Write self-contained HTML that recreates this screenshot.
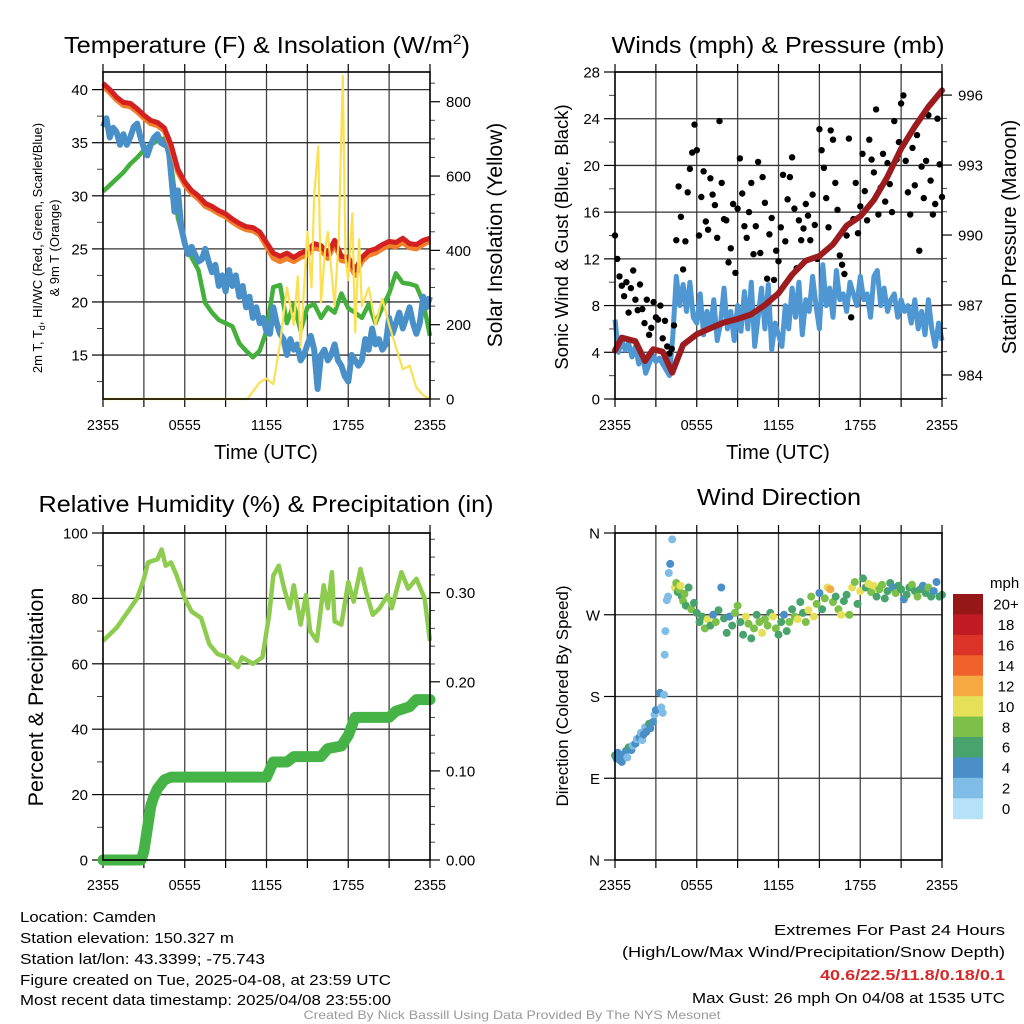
<!DOCTYPE html>
<html><head><meta charset="utf-8"><title>Camden Mesonet Meteogram</title>
<style>
html,body{margin:0;padding:0;background:#fff;}
svg{display:block;font-family:"Liberation Sans",Arial,sans-serif;}
</style></head>
<body>
<svg id="fig" xmlns="http://www.w3.org/2000/svg" width="1024" height="1024" viewBox="0 0 1024 1024">
<rect x="0" y="0" width="1024" height="1024" fill="#fff"/>
<g id="layer"></g>
<g fill="#000">
<text x="267" y="53" font-size="23" text-anchor="middle" textLength="406" lengthAdjust="spacingAndGlyphs">Temperature (F) &amp; Insolation (W/m<tspan font-size="14" dy="-9">2</tspan><tspan dy="9">)</tspan></text>
<text x="778" y="53" font-size="23" text-anchor="middle" textLength="333" lengthAdjust="spacingAndGlyphs">Winds (mph) &amp; Pressure (mb)</text>
<text x="266" y="512" font-size="23" text-anchor="middle" textLength="455" lengthAdjust="spacingAndGlyphs">Relative Humidity (%) &amp; Precipitation (in)</text>
<text x="779" y="505" font-size="23" text-anchor="middle" textLength="164" lengthAdjust="spacingAndGlyphs">Wind Direction</text>
<text x="266" y="459" font-size="20" text-anchor="middle">Time (UTC)</text>
<text x="778" y="459" font-size="20" text-anchor="middle">Time (UTC)</text>
<text transform="translate(42,248) rotate(-90)" font-size="13" text-anchor="middle">2m T, T<tspan font-size="9" dy="3">d</tspan><tspan dy="-3">, HI/WC (Red, Green, Scarlet/Blue)</tspan></text>
<text transform="translate(59,248) rotate(-90)" font-size="13" text-anchor="middle">&amp; 9m T (Orange)</text>
<text transform="translate(502,235) rotate(-90)" font-size="21" text-anchor="middle">Solar Insolation (Yellow)</text>
<text transform="translate(568,237) rotate(-90)" font-size="18.5" text-anchor="middle">Sonic Wind &amp; Gust (Blue, Black)</text>
<text transform="translate(1016,237) rotate(-90)" font-size="20" text-anchor="middle">Station Pressure (Maroon)</text>
<text transform="translate(43,697) rotate(-90)" font-size="21.5" text-anchor="middle">Percent &amp; Precipitation</text>
<text transform="translate(568,696) rotate(-90)" font-size="17" text-anchor="middle">Direction (Colored By Speed)</text>
<text x="990" y="588" font-size="15">mph</text>
</g>
<g font-size="14.5" fill="#000">
<text x="20" y="922" textLength="136" lengthAdjust="spacingAndGlyphs">Location: Camden</text>
<text x="20" y="943" textLength="214" lengthAdjust="spacingAndGlyphs">Station elevation: 150.327 m</text>
<text x="20" y="964" textLength="245" lengthAdjust="spacingAndGlyphs">Station lat/lon: 43.3399; -75.743</text>
<text x="20" y="985" textLength="371" lengthAdjust="spacingAndGlyphs">Figure created on Tue, 2025-04-08, at 23:59 UTC</text>
<text x="20" y="1005" textLength="371" lengthAdjust="spacingAndGlyphs">Most recent data timestamp: 2025/04/08 23:55:00</text>
</g>
<g font-size="14.5" fill="#000" text-anchor="end">
<text x="1005" y="935" textLength="231" lengthAdjust="spacingAndGlyphs">Extremes For Past 24 Hours</text>
<text x="1005" y="957" textLength="383" lengthAdjust="spacingAndGlyphs">(High/Low/Max Wind/Precipitation/Snow Depth)</text>
<text x="1005" y="980" font-weight="bold" fill="#d42a2a" textLength="185" lengthAdjust="spacingAndGlyphs">40.6/22.5/11.8/0.18/0.1</text>
<text x="1005" y="1003" textLength="313" lengthAdjust="spacingAndGlyphs">Max Gust: 26 mph On 04/08 at 1535 UTC</text>
</g>
<text x="512" y="1019" font-size="12" fill="#999" text-anchor="middle" textLength="417" lengthAdjust="spacingAndGlyphs">Created By Nick Bassill Using Data Provided By The NYS Mesonet</text>
</svg>
<script>
// ---------- data ----------
const halfHours = [0,0.5,1,1.5,2,2.5,3,3.5,4,4.5,5,5.5,6,6.5,7,7.5,8,8.5,9,9.5,10,10.5,11,11.5,12,12.5,13,13.5,14,14.5,15,15.5,16,16.5,17,17.5,18,18.5,19,19.5,20,20.5,21,21.5,22,22.5,23,23.5,24];
const quarterHours = Array.from({length: 97}, (_, i) => i / 4);
const tempRed = [40.6,40.0,39.3,38.8,38.7,38.2,37.6,37.1,36.9,36.4,34.8,32.5,31.3,30.5,30.0,29.3,29.0,28.6,28.3,27.8,27.4,27.1,27.0,26.6,25.6,24.6,24.3,24.6,24.2,24.6,24.8,25.5,25.3,24.5,25.8,24.3,24.2,23.0,24.2,24.8,25.0,25.4,25.7,25.6,26.0,25.5,25.4,25.8,26.0];
const temp9mOrange = [40.3,39.7,39.0,38.5,38.4,37.9,37.3,36.8,36.6,36.1,34.5,32.2,31.0,30.2,29.7,29.0,28.7,28.3,28.0,27.5,27.1,26.8,26.7,26.3,25.2,24.1,23.8,24.1,23.8,24.2,24.4,25.1,24.9,24.1,25.4,23.9,23.8,22.5,23.8,24.4,24.6,25.0,25.3,25.2,25.6,25.1,25.0,25.4,25.7];
const dewGreen = [30.4,31.0,31.6,32.2,33.0,33.6,34.3,34.8,35.2,35.4,33.0,27.9,25.5,24.2,23.0,19.9,19.0,18.3,18.0,17.7,16.1,15.4,14.8,15.4,17.3,21.4,21.6,18.0,19.8,17.3,19.5,19.8,18.5,19.5,19.0,20.8,19.4,19.0,18.5,19.8,18.0,19.5,20.8,22.7,21.8,21.7,21.5,20.0,16.8];
const chillBlue = [36.5,37.3,35.5,36.4,36.0,34.8,35.8,34.8,35.5,36.5,36.8,35.5,34.5,33.8,34.8,35.5,35.8,35.0,34.8,35.5,32.0,
28.5,30.5,27,25.5,24.5,25.2,24.5,23.8,24.0,25.0,23.8,22.8,23.5,21.5,22.5,21.0,23.0,21.5,22.5,20.5,21.5,19.5,20.5,18.5,19.5,18.0,18.5,17.2,17.0,19.5,18.0,17.0,16.5,15.0,16.5,15.5,16.0,14.5,15.0,16.0,16.8,15.5,11.8,15.0,15.5,14.5,15.0,16.0,14.5,14.0,13.0,12.5,15.0,14.5,14.0,14.5,16.5,15.5,17.5,16.0,16.5,15.5,16.0,18.5,17.0,18.0,19.0,17.5,18.5,19.5,18.0,17.0,18.0,20.5,19.5,20.5];
const solarTimes = [0,10.6,11,11.5,12,12.5,13,13.5,14,14.3,14.5,15,15.3,15.5,15.8,16,16.3,16.5,17,17.3,17.6,17.8,18,18.3,18.5,18.8,19,19.5,20,20.5,21,21.5,22,22.5,23,23.5,24];
const solarValues = [0,0,20,45,55,40,150,300,200,330,140,450,300,550,680,260,400,450,250,430,870,380,320,500,180,430,250,300,200,270,200,140,80,90,30,10,0];
const windSpeed = [6.8,4.0,5.0,4.2,4.8,3.6,4.5,3.0,3.8,2.2,3.0,3.8,3.2,3.5,3.0,2.5,2.0,
5.5,10.5,8.0,9.8,7.5,10.0,7.0,6.5,9.0,5.5,7.5,6.0,8.5,5.0,6.5,9.5,6.0,7.5,5.0,8.0,5.8,9.2,6.0,10.0,4.5,7.0,9.5,6.0,9.8,4.2,6.5,5.5,4.5,8.0,6.0,9.5,7.0,10.0,5.5,8.5,7.5,10.5,8.0,6.0,11.5,8.0,9.5,7.0,11.0,8.5,9.0,7.5,10.0,9.0,8.0,10.5,8.5,9.0,7.0,10.5,11.0,8.0,9.5,7.5,8.5,9.0,7.0,8.5,7.5,8.0,6.5,8.5,6.0,7.5,5.5,8.5,6.0,4.5,6.5,5.0];
const pressureHours = [0,0.5,1.5,2.2,2.8,3.5,4.2,5,6,7,8,9,10,11,12,13,14,15,16,17,18,19,20,21,22,23,24];
const pressureMb = [985.05,985.6,985.45,984.6,985.1,985.0,984.1,985.3,985.75,986.0,986.25,986.4,986.6,987.0,987.5,988.3,988.9,989.1,989.6,990.4,990.8,991.5,992.5,993.7,994.65,995.5,996.2];
const gustMph = [14,12,10.5,9.7,8.8,10,7.4,9.5,11,8.5,7.6,9.8,7.7,6.5,8.5,5.5,6.1,8.3,7,6.8,8,5.2,6.7,4.5,3.9,4.3,
6.3,13.6,18.2,15.6,11.1,13.5,17.7,19.7,21.1,23.5,21.3,14,17.3,19.5,15.2,14.5,18.9,17.5,16.6,13.8,23.8,18.5,15.4,15.3,11.7,12.9,16.7,10.8,16.3,20.6,17.6,14.8,13.8,16,18.5,12.4,14.8,20.3,12.5,19,16.8,10.3,14.1,15.5,10.2,12.7,11.8,14.7,19.2,13.5,17.1,19,20.7,16.3,11.2,15.3,13.6,14.6,16.7,15.7,13.6,17.5,14.9,12,23.1,21.3,19.8,17.2,14.7,23,22.2,18.5,16.2,12.3,11.5,10.7,14,22.3,7,15.4,18.5,14.2,16.5,21,17.8,15.3,22.2,20.5,19.4,24.8,15.8,18.1,21,16.9,20.2,18.4,16,23.8,20.5,22,25.3,26,20.4,17.7,15.8,21.5,18.3,22.6,12.7,19.9,17.2,20.4,24.3,18.7,15.8,16.7,24,20.1,17.3];
const rhHours = [0,1,2,2.5,3,3.3,4,4.3,4.6,5,5.4,6,6.5,7.2,7.8,8.4,9.1,9.9,10.2,11,11.7,12.2,12.5,12.9,13.3,13.7,14,14.5,14.9,15.2,15.7,16.2,16.5,16.8,17,17.5,18,18.4,18.9,19.3,19.8,20.3,20.9,21.2,21.9,22.4,23,23.6,24];
const rhPercent = [67,71,77,80,86,91,92,95,90,91,87,80,76,74,66,63,62,59,62,60,62,75,87,90,83,77,84,72,81,70,67,84,77,88,73,72,85,79,89,82,75,77,81,77,88,83,86,80,67];
const precipHours = [0,2.8,3.0,3.3,3.5,3.7,4.0,4.5,5,12,12.5,13.5,14,16,16.5,17.5,18,18.5,21,21.5,22.5,23,24];
const precipInches = [0,0,0.01,0.04,0.06,0.07,0.08,0.09,0.093,0.093,0.11,0.11,0.116,0.116,0.125,0.128,0.14,0.16,0.16,0.167,0.172,0.18,0.18];
const dirHours = [0,0.1,0.2,0.35,0.5,0.6,0.8,0.9,1.0,1.2,1.3,1.5,1.6,1.8,1.9,2.0,2.1,2.2,2.3,2.5,2.6,2.8,2.9,3.0,3.3,3.4,3.5,3.6,3.65,3.7,3.8,3.9,3.95,4.05,4.2,
4.4,4.5,4.6,4.7,4.8,4.9,5.0,5.1,5.2,5.4,5.6,5.8,6.0,6.2,6.4,6.6,6.8,7.0,7.2,7.4,7.6,7.8,8.0,8.2,8.4,8.6,8.8,9.0,9.2,9.4,9.6,9.8,10.0,10.2,10.4,10.6,10.8,11.0,11.2,11.4,11.6,11.8,12.0,12.2,12.4,12.6,12.8,13.0,13.2,13.4,13.6,13.8,14.0,14.2,14.4,14.6,14.8,15.0,15.2,15.4,15.6,15.8,16.0,16.2,16.4,16.6,16.8,17.0,17.2,17.4,17.6,17.8,18.0,18.2,18.4,18.6,18.8,19.0,19.2,19.4,19.6,19.8,20.0,20.2,20.4,20.6,20.8,21.0,21.2,21.4,21.6,21.8,22.0,22.2,22.4,22.6,22.8,23.0,23.2,23.4,23.6,23.8,24.0];
const dirDegrees = [115,112,118,110,108,116,120,113,124,121,126,128,133,135,140,132,138,146,141,150,145,152,160,165,184,168,162,182,226,252,286,290,316,326,353,
300,305,295,298,302,290,285,293,280,300,276,283,272,262,268,255,265,258,270,262,275,300,266,250,268,258,272,280,262,248,268,260,244,255,270,262,250,265,258,272,268,255,248,262,270,252,262,276,268,265,284,272,262,275,290,268,282,294,276,288,300,298,284,290,276,270,285,292,270,300,306,282,296,310,300,304,295,302,290,298,303,288,296,305,300,294,302,298,287,292,300,303,296,290,298,302,294,300,290,296,306,290,292];
const dirSpeed = [6,4,4,4,4,4,4,3,6,4,3,4,2,4,3,2,4,2,4,6,4,4,2,4,4,2,2,2,2,2,2,2,2,4,2,
10,8,6,8,10,6,8,8,6,6,8,6,6,6,6,8,10,6,4,8,6,4,6,6,4,6,8,8,6,6,10,8,6,8,6,8,10,8,8,6,10,8,6,6,4,6,8,6,8,10,6,6,8,10,8,10,8,4,6,8,10,12,8,6,8,10,6,6,8,10,8,6,10,6,6,10,8,10,6,8,8,6,6,6,4,8,6,6,4,6,6,8,6,8,6,4,6,8,6,4,4,6,6];
const speedBinLabels = ["0","2","4","6","8","10","12","14","16","18","20+"];
const speedBinColors = ["#b5e2f8","#7fbde6","#4a8fc7","#48a46c","#7cc04a","#e6e058","#f6a843","#ef622b","#dc3328","#c01b24","#961718"];
const timeTickLabels = ["2355","0555","1155","1755","2355"];
const tempTicks = [15,20,25,30,35,40];
const solarTicks = [0,200,400,600,800];
const windTicks = [0,4,8,12,16,20,24,28];
const pressureTicks = [984,987,990,993,996];
const rhTicks = [0,20,40,60,80,100];
const precipTicks = [0,0.1,0.2,0.3];
const precipTickLabels = ["0.00","0.10","0.20","0.30"];
const dirTicks = [0,90,180,270,360];
const dirTickLabels = ["N","E","S","W","N"];

// ---------- helpers ----------
const NS = "http://www.w3.org/2000/svg";
const layer = document.getElementById("layer");
function mk(tag, attrs, parent, name) {
  const el = document.createElementNS(NS, tag);
  for (const k in attrs) el.setAttribute(k, attrs[k]);
  
  
  parent.appendChild(el);
  return el;
}
function linScale(d0, d1, r0, r1) { return v => r0 + (v - d0) / (d1 - d0) * (r1 - r0); }
function makePanel(x0, x1, yT, yB) {
  return { x0, x1, yT, yB, sx: linScale(0, 24, x0, x1) };
}
function pathFrom(xs, ys, sx, sy) {
  let d = "";
  for (let i = 0; i < xs.length; i++) d += (i ? "L" : "M") + sx(xs[i]).toFixed(1) + "," + sy(ys[i]).toFixed(1);
  return d;
}
function drawGridAndTicks(p, g, leftScale, leftTicks, leftLabels, leftMinor, rightScale, rightTicks, rightLabels, rightMinor, labelY) {
  for (let h = 3; h < 24; h += 3) {
    const x = p.sx(h);
    mk("line", {x1:x, y1:p.yT, x2:x, y2:p.yB, stroke:"#444", "stroke-width":1.3}, g, "vertical-gridline");
  }
  for (let h = 0; h <= 24; h += 3) {
    const x = p.sx(h);
    mk("line", {x1:x, y1:p.yB, x2:x, y2:p.yB + 8, stroke:"#000", "stroke-width":1.2}, g, "x-tick");
    mk("line", {x1:x, y1:p.yT, x2:x, y2:p.yT - 8, stroke:"#000", "stroke-width":1.2}, g, "x-tick-top");
  }
  timeTickLabels.forEach((lab, i) => {
    const t = mk("text", {x:p.sx(i * 6), y:labelY, "font-size":14.5, "text-anchor":"middle"}, g, "x-tick-label");
    t.textContent = lab;
  });
  leftTicks.forEach((v, i) => {
    const y = leftScale(v);
    mk("line", {x1:p.x0, y1:y, x2:p.x1, y2:y, stroke:"#333", "stroke-width":1.3}, g, "horizontal-gridline");
    mk("line", {x1:p.x0 - 11, y1:y, x2:p.x0, y2:y, stroke:"#000", "stroke-width":1.2}, g, "y-tick");
    const t = mk("text", {x:p.x0 - 15, y:y + 5.5, "font-size":15, "text-anchor":"end"}, g, "y-tick-label");
    t.textContent = leftLabels[i];
  });
  leftMinor.forEach(v => {
    const y = leftScale(v);
    mk("line", {x1:p.x0 - 6, y1:y, x2:p.x0, y2:y, stroke:"#444", "stroke-width":1}, g, "y-minor-tick");
  });
  if (rightScale) {
    rightTicks.forEach((v, i) => {
      const y = rightScale(v);
      mk("line", {x1:p.x1, y1:y, x2:p.x1 + 10, y2:y, stroke:"#000", "stroke-width":1.2}, g, "y2-tick");
      const t = mk("text", {x:p.x1 + 16, y:y + 5.5, "font-size":15, "text-anchor":"start"}, g, "y2-tick-label");
      t.textContent = rightLabels[i];
    });
    rightMinor.forEach(v => {
      const y = rightScale(v);
      mk("line", {x1:p.x1, y1:y, x2:p.x1 + 5, y2:y, stroke:"#444", "stroke-width":1}, g, "y2-minor-tick");
    });
  }
}
function drawFrame(p, g) {
  mk("rect", {x:p.x0, y:p.yT, width:p.x1 - p.x0, height:p.yB - p.yT, fill:"none", stroke:"#000", "stroke-width":1.6}, g, "plot-frame");
}
function range(a, b, s) { const r = []; for (let v = a; v <= b + 1e-9; v += s) r.push(+v.toFixed(4)); return r; }

// ---------- panel 1: temperature ----------
const p1 = makePanel(103, 430, 72, 399);
const g1 = mk("g", {}, layer, "temperature-panel");
const tY = linScale(10.86, 41.66, p1.yB, p1.yT);
const sY = linScale(0, 880, p1.yB, p1.yT);
drawGridAndTicks(p1, g1, tY, tempTicks, tempTicks.map(String), range(12.5, 40, 2.5).filter(v => v % 5 !== 0),
  sY, solarTicks, solarTicks.map(String), range(50, 850, 50).filter(v => v % 200 !== 0), 430);
mk("path", {d:pathFrom(halfHours, dewGreen, p1.sx, tY), fill:"none", stroke:"#44b03c", "stroke-width":4.5, "stroke-linejoin":"round"}, g1, "dewpoint-line");
mk("path", {d:pathFrom(quarterHours, chillBlue, p1.sx, tY), fill:"none", stroke:"#4a90c8", "stroke-width":6, "stroke-linejoin":"round"}, g1, "wind-chill-line");
mk("path", {d:pathFrom(halfHours, temp9mOrange, p1.sx, tY), fill:"none", stroke:"#f07f2a", "stroke-width":5, "stroke-linejoin":"round"}, g1, "temp-9m-line");
mk("path", {d:pathFrom(halfHours, tempRed, p1.sx, tY), fill:"none", stroke:"#d42020", "stroke-width":5, "stroke-linejoin":"round"}, g1, "temp-2m-line");
mk("path", {d:pathFrom(solarTimes, solarValues, p1.sx, sY), fill:"none", stroke:"#fbe052", "stroke-width":2.2, "stroke-linejoin":"round"}, g1, "solar-line");
drawFrame(p1, g1);

// ---------- panel 2: winds ----------
const p2 = makePanel(615, 942, 72, 399);
const g2 = mk("g", {}, layer, "winds-panel");
const wY = linScale(0, 28, p2.yB, p2.yT);
const pY = linScale(982.97, 996.99, p2.yB, p2.yT);
drawGridAndTicks(p2, g2, wY, windTicks, windTicks.map(String), range(2, 26, 4),
  pY, pressureTicks, pressureTicks.map(String), range(983, 996, 1).filter(v => (v - 984) % 3 !== 0), 430);
mk("path", {d:pathFrom(quarterHours, windSpeed, p2.sx, wY), fill:"none", stroke:"#4f97d2", "stroke-width":5, "stroke-linejoin":"round"}, g2, "sonic-wind-line");
gustMph.forEach((v, i) => {
  const c = mk("circle", {cx:p2.sx(i / 6).toFixed(1), cy:wY(v).toFixed(1), r:3.2, fill:"#000"}, g2, "gust-point");
});
mk("path", {d:pathFrom(pressureHours, pressureMb, p2.sx, pY), fill:"none", stroke:"#9b1b1e", "stroke-width":6, "stroke-linejoin":"round", "stroke-linecap":"round"}, g2, "pressure-line");
drawFrame(p2, g2);

// ---------- panel 3: humidity & precip ----------
const p3 = makePanel(103, 430, 533, 860);
const g3 = mk("g", {}, layer, "humidity-panel");
const rY = linScale(0, 100, p3.yB, p3.yT);
const prY = linScale(0, 0.367, p3.yB, p3.yT);
drawGridAndTicks(p3, g3, rY, rhTicks, rhTicks.map(String), range(10, 90, 20),
  prY, precipTicks, precipTickLabels, range(0.02, 0.36, 0.02).filter(v => Math.abs(v * 10 - Math.round(v * 10)) > 1e-6), 890);
mk("path", {d:pathFrom(rhHours, rhPercent, p3.sx, rY), fill:"none", stroke:"#8dcc4e", "stroke-width":4.5, "stroke-linejoin":"round"}, g3, "relative-humidity-line");
mk("path", {d:pathFrom(precipHours, precipInches, p3.sx, prY), fill:"none", stroke:"#46b346", "stroke-width":11, "stroke-linejoin":"round", "stroke-linecap":"round"}, g3, "precipitation-line");
drawFrame(p3, g3);

// ---------- panel 4: wind direction ----------
const p4 = makePanel(615, 942, 533, 860);
const g4 = mk("g", {}, layer, "wind-direction-panel");
const dY = linScale(0, 360, p4.yB, p4.yT);
drawGridAndTicks(p4, g4, dY, dirTicks, dirTickLabels, [], null, [], [], [], 890);
function speedColor(s) { return speedBinColors[Math.min(10, Math.max(0, Math.floor(s / 2)))]; }
dirHours.forEach((t, i) => {
  const c = mk("circle", {cx:p4.sx(t).toFixed(1), cy:dY(dirDegrees[i]).toFixed(1), r:4, fill:speedColor(dirSpeed[i])}, g4, "direction-point");
});
drawFrame(p4, g4);

// colorbar
const cb = mk("g", {}, layer, "speed-colorbar");
const cbTop = 594, cbH = 224.7, cbX = 953, cbW = 30;
const boxH = cbH / speedBinColors.length;
speedBinColors.forEach((col, i) => {
  const idx = speedBinColors.length - 1 - i;
  const y = cbTop + i * boxH;
  mk("rect", {x:cbX, y:y.toFixed(1), width:cbW, height:(boxH + 0.5).toFixed(1), fill:speedBinColors[idx]}, cb, "colorbar-swatch");
  const t = mk("text", {x:1006, y:(y + boxH / 2 + 5.5).toFixed(1), "font-size":15, "text-anchor":"middle"}, cb, "colorbar-label");
  t.textContent = speedBinLabels[idx];
});
</script>
</body></html>
